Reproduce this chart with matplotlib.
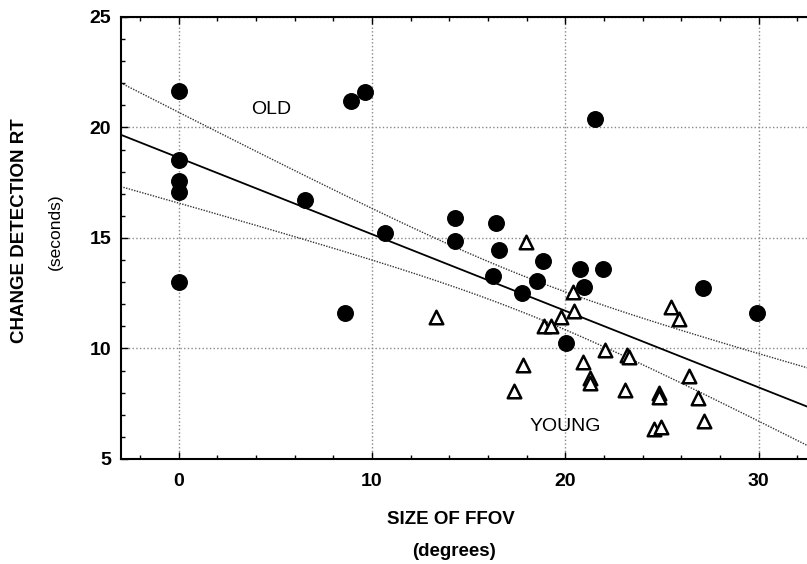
import numpy as np
import matplotlib
matplotlib.use("Agg")
import matplotlib.pyplot as plt
from matplotlib.ticker import MultipleLocator

plt.rcParams['font.family'] = ['Liberation Sans', 'DejaVu Sans']

# old subjects (filled circles): FFOV size (deg), change detection RT (s)
old_x = [0, 0, 0, 0, 0, 8.93, 9.66, 6.55, 10.69, 8.59, 14.28, 14.28, 16.4,
         16.57, 18.85, 16.26, 18.54, 17.76, 20.75, 21.95, 20.95, 20.02,
         21.52, 27.12, 29.92]
old_y = [21.65, 18.53, 17.58, 17.07, 13.0, 21.21, 21.62, 16.72, 15.21, 11.59,
         15.89, 14.86, 15.69, 14.46, 13.96, 13.28, 13.05, 12.5, 13.6, 13.6,
         12.77, 10.26, 20.37, 12.75, 11.59]

# young subjects (open triangles)
young_x = [17.99, 13.33, 20.37, 20.43, 19.8, 18.88, 19.28, 25.48, 25.86,
           22.07, 23.2, 23.3, 20.92, 17.81, 21.26, 21.26, 17.33, 23.11, 24.85,
           24.85, 26.4, 26.87, 27.16, 24.57, 24.97]
young_y = [14.83, 11.41, 12.57, 11.7, 11.41, 11.02, 11.02, 11.89, 11.33,
           9.92, 9.7, 9.62, 9.37, 9.23, 8.68, 8.45, 8.08, 8.12, 7.98,
           7.82, 8.76, 7.77, 6.72, 6.34, 6.43]

x_ticks = [0, 10, 20, 30]
y_ticks = [5, 10, 15, 20, 25]

# regression over all subjects with 95% confidence band
xa = np.array(old_x + young_x)
ya = np.array(old_y + young_y)
n = len(xa)
slope, intercept = np.polyfit(xa, ya, 1)
resid = ya - (intercept + slope * xa)
s_err = np.sqrt(np.sum(resid**2) / (n - 2))
t_val = 2.011
xs = np.linspace(-3, 32.5, 200)
fit = intercept + slope * xs
half = t_val * s_err * np.sqrt(1 / n + (xs - xa.mean())**2 / np.sum((xa - xa.mean())**2))

fig = plt.figure(figsize=(8.07, 5.64), dpi=100)
ax = fig.add_axes([0.1496, 0.1862, 0.8504, 0.7837])

ax.grid(True, which='major', color='#888888', linestyle=':', linewidth=1)
ax.set_axisbelow(True)

ax.plot(xs, fit, color='black', lw=1.3)
ax.plot(xs, fit + half, color='#333333', lw=1, ls=(0, (1, 1)))
ax.plot(xs, fit - half, color='#333333', lw=1, ls=(0, (1, 1)))

ax.scatter(old_x, old_y, s=125, color='black', zorder=3)
ax.scatter(young_x, young_y, s=95, marker='^', facecolor='white',
           edgecolor='black', linewidths=1.8, zorder=3)

ax.text(4.8, 20.8, 'OLD', fontsize=14, ha='center', va='center')
ax.text(20.0, 6.45, 'YOUNG', fontsize=14, ha='center', va='center')

ax.set_xlim(-3, 32.5)
ax.set_ylim(5, 25)
ax.set_xticks(x_ticks)
ax.set_yticks(y_ticks)
ax.xaxis.set_minor_locator(MultipleLocator(2))
ax.yaxis.set_minor_locator(MultipleLocator(1))
ax.tick_params(which='both', direction='in', top=True, right=False,
               width=1)
ax.tick_params(which='major', length=5, labelsize=14)
ax.tick_params(axis='x', which='major', pad=10)
ax.tick_params(axis='y', which='major', pad=7)
ax.tick_params(which='minor', length=3)
for lab in ax.get_xticklabels() + ax.get_yticklabels():
    lab.set_fontweight('bold')
ax.spines['right'].set_visible(False)
for sp in ['left', 'bottom', 'top']:
    ax.spines[sp].set_linewidth(1.5)

fig.text(451 / 807, 1 - 520 / 564, 'SIZE OF FFOV', fontsize=13.5,
         fontweight='bold', ha='center', va='center')
fig.text(454 / 807, 1 - 552 / 564, '(degrees)', fontsize=13.5,
         fontweight='bold', ha='center', va='center')
fig.text(20 / 807, 1 - 231 / 564, 'CHANGE DETECTION RT', fontsize=13.5,
         fontweight='bold', ha='center', va='center', rotation=90)
fig.text(55 / 807, 1 - 232 / 564, '(seconds)', fontsize=12.5,
         ha='center', va='center', rotation=90)

fig.savefig('out.png', dpi=100)
